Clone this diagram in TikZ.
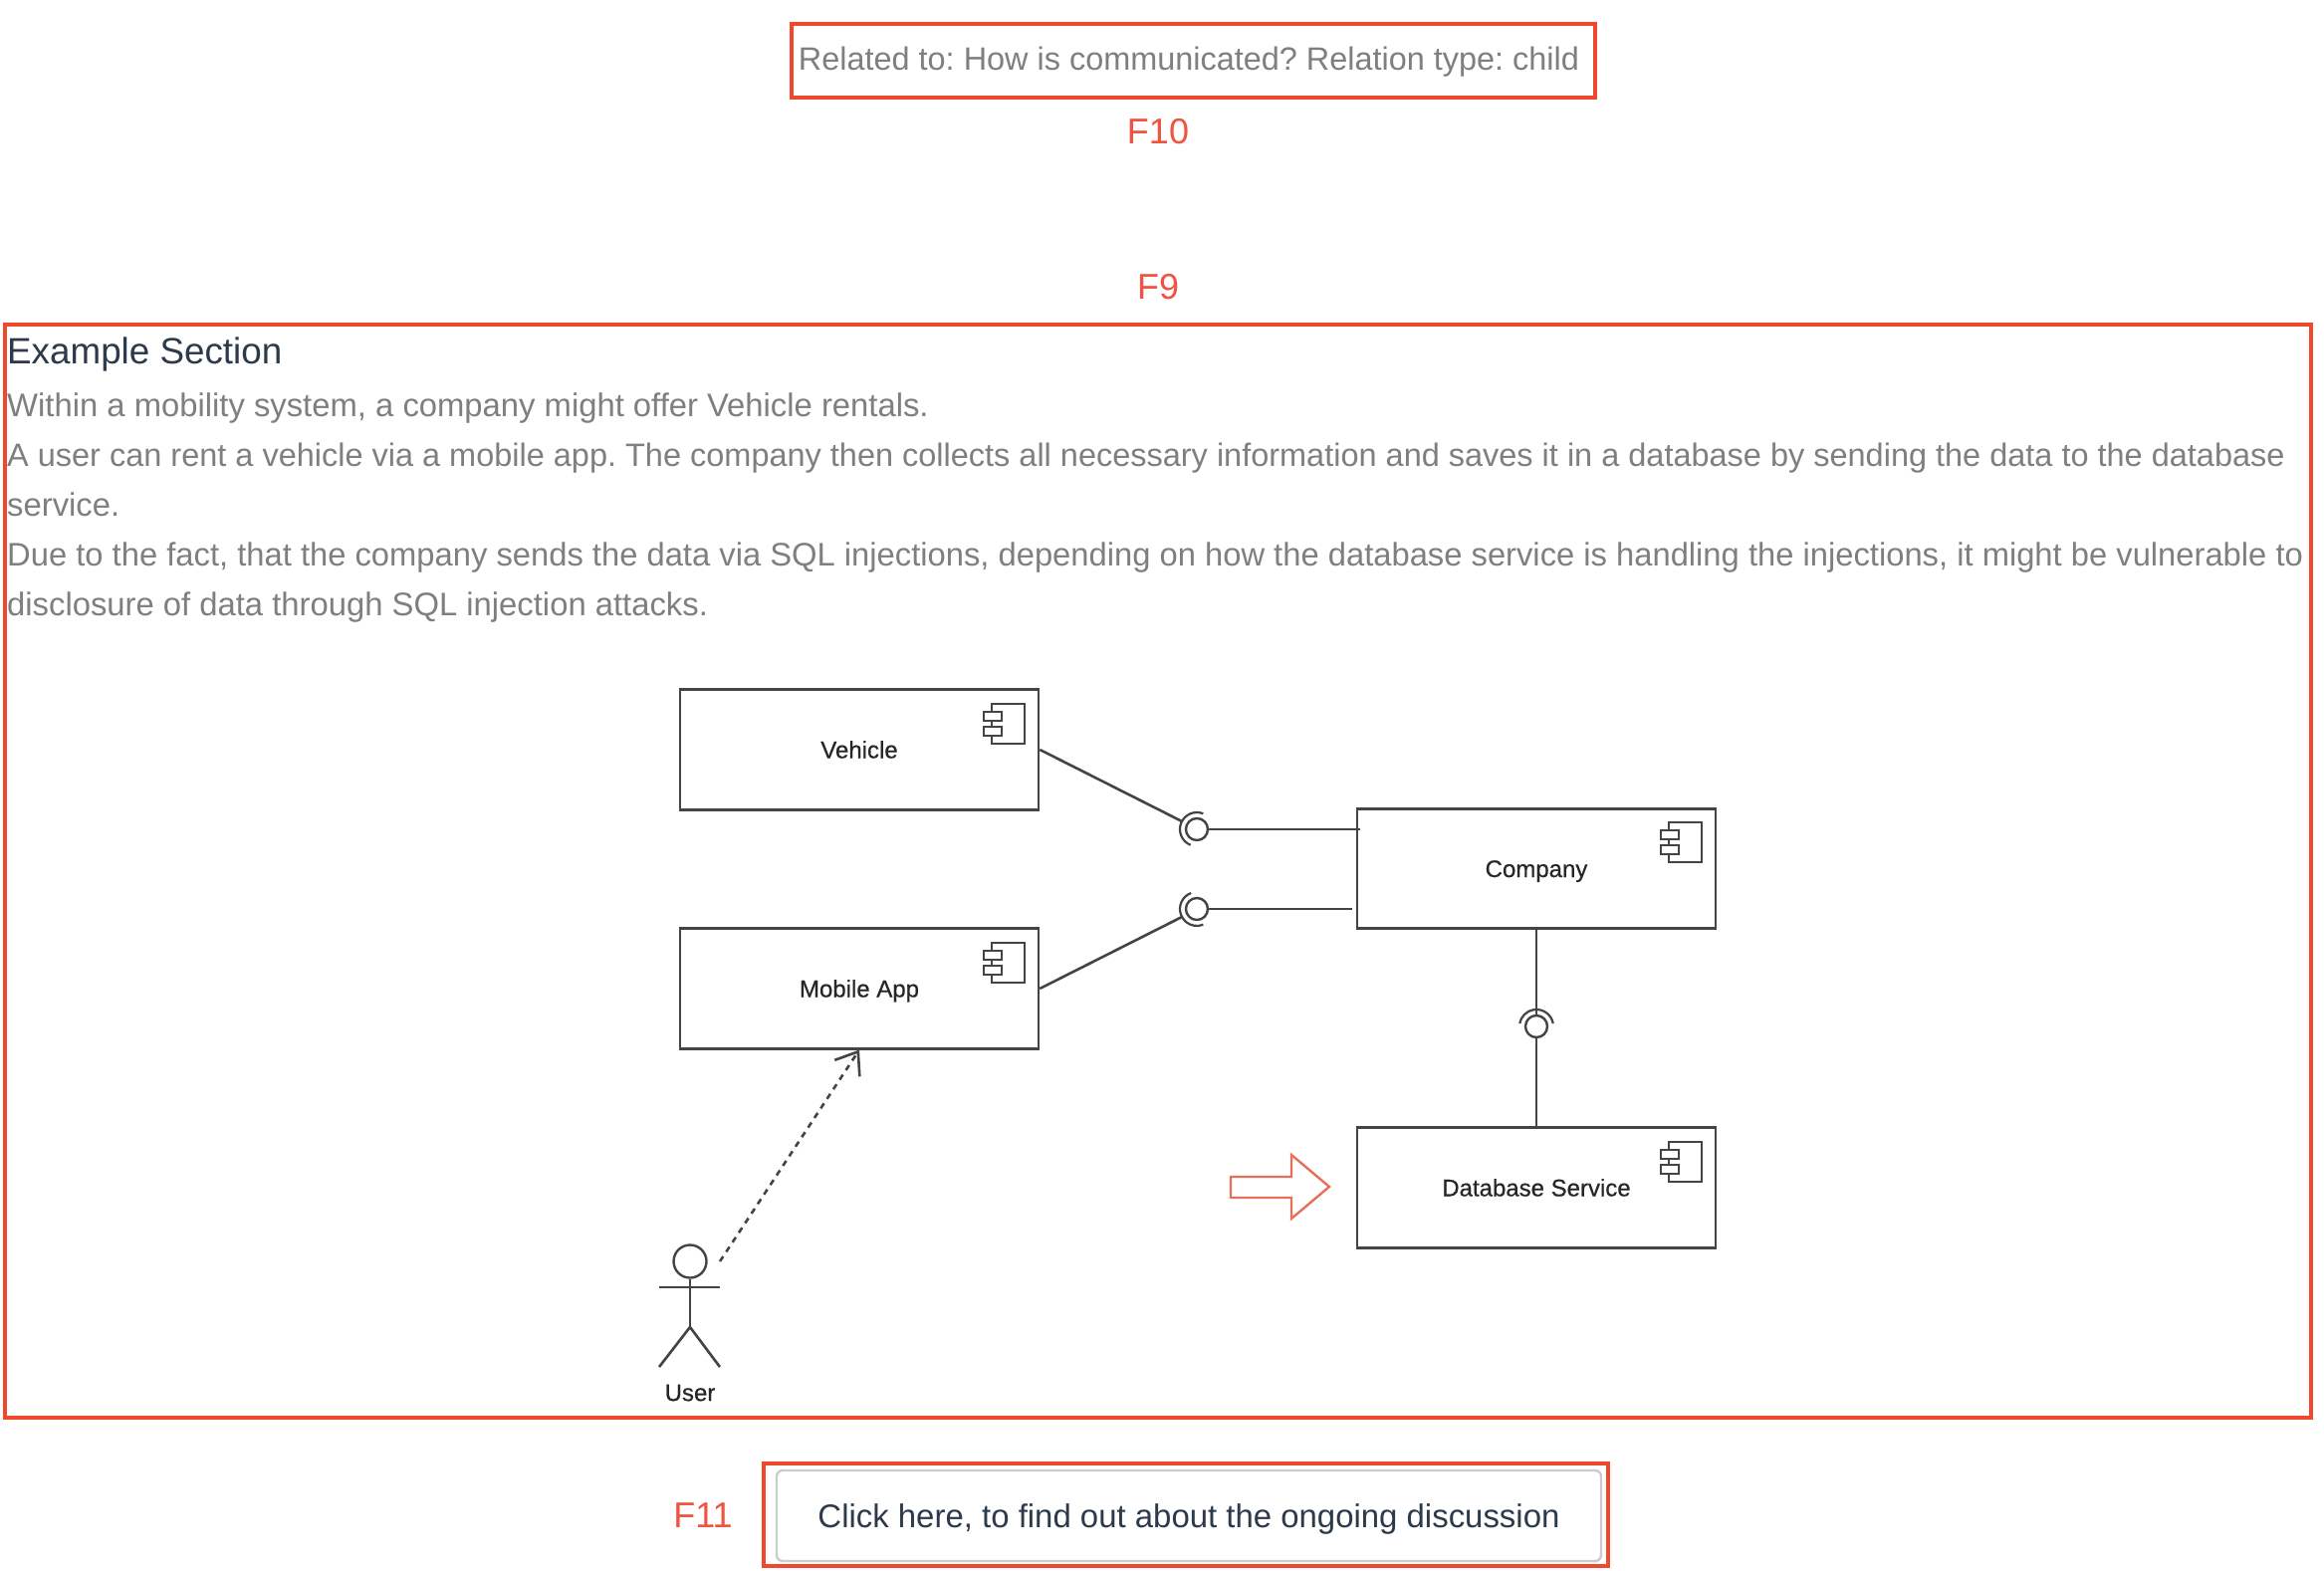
\documentclass[tikz,border=0pt]{standalone}
\usepackage{fontspec}
\setmainfont{Liberation Sans}
\newfontfamily\umlfont[FakeBold=0.5]{Liberation Sans}
\usetikzlibrary{arrows.meta}
\definecolor{redbox}{HTML}{F0482A}
\definecolor{redlabel}{HTML}{F0533F}
\definecolor{greytext}{HTML}{7F7F7F}
\definecolor{headtext}{HTML}{2C3A4C}
\definecolor{umlline}{HTML}{444444}
\definecolor{umltext}{HTML}{262626}
\definecolor{umlarrow}{HTML}{E8705A}
\newcommand{\fsz}[1]{\fontsize{#1}{#1}\selectfont\frenchspacing}
\tikzset{
  redframe/.style={draw=redbox,line width=4pt,fill=none},
  flabel/.style={text=redlabel,font=\fsz{36},inner sep=0pt,anchor=center},
  bodyline/.style={text=greytext,font=\fsz{32.8},inner sep=0pt,anchor=base west},
  component/.style={draw=umlline,line width=2.6pt,fill=white,minimum width=360pt,minimum height=120.5pt,inner sep=0pt,text=umltext,font=\umlfont\fsz{24},text height=17pt,text depth=0pt},
  conn/.style={draw=umlline,line width=2.6pt},
  ball/.style={circle,draw=umlline,line width=2.4pt,minimum size=22pt,inner sep=0pt,fill=white},
  cicon/.pic={
    \draw[umlline,line width=2.4pt] (-47,14) rectangle (-14,54);
    \draw[umlline,line width=2.4pt,fill=white] (-55,22) rectangle (-37,31);
    \draw[umlline,line width=2.4pt,fill=white] (-55,37) rectangle (-37,46);
  }
}
\begin{document}
\begin{tikzpicture}[x=1pt,y=-1pt]
\useasboundingbox (0,0) rectangle (2334,1578);
\fill[white] (0,0) rectangle (2334,1578);
% top frame
\node[redframe,minimum width=807pt,minimum height=74pt,inner sep=0pt] (relatedframe) at (1198.5,61) {};
\node[inner sep=0pt,text=greytext,font=\fsz{32.43},text height=24pt,text depth=7pt] (related) at (1194,62) {Related to: How is communicated? Relation type: child};
\node[flabel] (f10) at (1163,132) {F10};
\node[flabel] (f9) at (1163,288) {F9};
% section frame
\node[redframe,minimum width=2316pt,minimum height=1098pt,inner sep=0pt] (section) at (1162.5,875) {};
\node[text=headtext,font=\fsz{36.8},inner sep=0pt,anchor=base west] (heading) at (7,366) {Example Section};
\node[bodyline] (l1) at (7,418) {Within a mobility system, a company might offer Vehicle rentals.};
\node[bodyline,font=\fsz{32.48}] (l2) at (7,468) {A user can rent a vehicle via a mobile app. The company then collects all necessary information and saves it in a database by sending the data to the database};
\node[bodyline] (l3) at (7,518) {service.};
\node[bodyline,font=\fsz{32.74}] (l4) at (7,568) {Due to the fact, that the company sends the data via SQL injections, depending on how the database service is handling the injections, it might be vulnerable to};
\node[bodyline] (l5) at (7,618) {disclosure of data through SQL injection attacks.};
% components
\node[component] (vehicle) at (863,753) {Vehicle};
\node[component] (mobile) at (863,993) {Mobile App};
\node[component] (company) at (1543,872.5) {Company};
\node[component] (db) at (1543,1193) {Database Service};
\pic at (1043,692.75) {cicon};
\pic at (1043,932.75) {cicon};
\pic at (1723,812.25) {cicon};
\pic at (1723,1132.75) {cicon};
% lollipops
\node[ball] (b1) at (1202,833) {};
\node[ball] (b2) at (1202,913) {};
\node[ball] (b3) at (1543,1031) {};
\coordinate (c1) at (1366,833);
\coordinate (c2) at (1358,913);
\coordinate (s1) at (1187,825);
\coordinate (s2) at (1187,921);
\draw[conn] (vehicle.east) -- (s1);
\draw[conn] (mobile.east) -- (s2);
\draw[conn] (b1.east) -- (c1);
\draw[conn] (b2.east) -- (c2);
\draw[conn] (company.south) -- (b3.north);
\draw[conn] (b3.south) -- (db.north);
\draw[umlline,line width=2.2pt] (b1.center) ++(-68:17) arc[start angle=-68,end angle=-248,x radius=17,y radius=17];
\draw[umlline,line width=2.2pt] (b2.center) ++(-110:17) arc[start angle=-110,end angle=-292,x radius=17,y radius=17];
\draw[umlline,line width=2.2pt] (b3.center) ++(-10:17) arc[start angle=-10,end angle=-170,x radius=17,y radius=17];
% user
\node[circle,draw=umlline,line width=2.4pt,minimum size=33pt,inner sep=0pt] (head) at (693,1267) {};
\coordinate (armL) at (662,1293);
\coordinate (armR) at (723,1293);
\coordinate (hip) at (693,1333);
\coordinate (legL) at (662,1373);
\coordinate (legR) at (723,1373);
\draw[conn] (armL) -- (armR);
\draw[conn] (head.south) -- (hip);
\draw[conn] (legL) -- (hip) -- (legR);
\node[inner sep=0pt,text=umltext,font=\umlfont\fsz{24}] (user) at (693,1399) {User};
\coordinate (dashstart) at (723,1267);
\draw[conn,dash pattern=on 6pt off 5.5pt,-{Straight Barb[length=20pt,width=30pt,line width=2.6pt]}] (dashstart) -- (mobile.south);
% red arrow
\draw[umlarrow,line width=2.4pt,line join=miter] (1236,1182) -- (1297,1182) -- (1297,1160) -- (1335,1192) -- (1297,1224) -- (1297,1203) -- (1236,1203) -- cycle;
% button
\node[redframe,minimum width=848pt,minimum height=103pt,inner sep=0pt] (btnframe) at (1190.5,1521.5) {};
\node[draw=black!20,line width=2.4pt,rounded corners=6pt,minimum width=828pt,minimum height=91pt,inner sep=0pt,text=headtext,font=\fsz{32.93},text height=27pt,text depth=4pt] (btn) at (1194,1522.5) {Click here, to find out about the ongoing discussion};
\node[flabel] (f11) at (706,1522) {F11};
\end{tikzpicture}
\end{document}
